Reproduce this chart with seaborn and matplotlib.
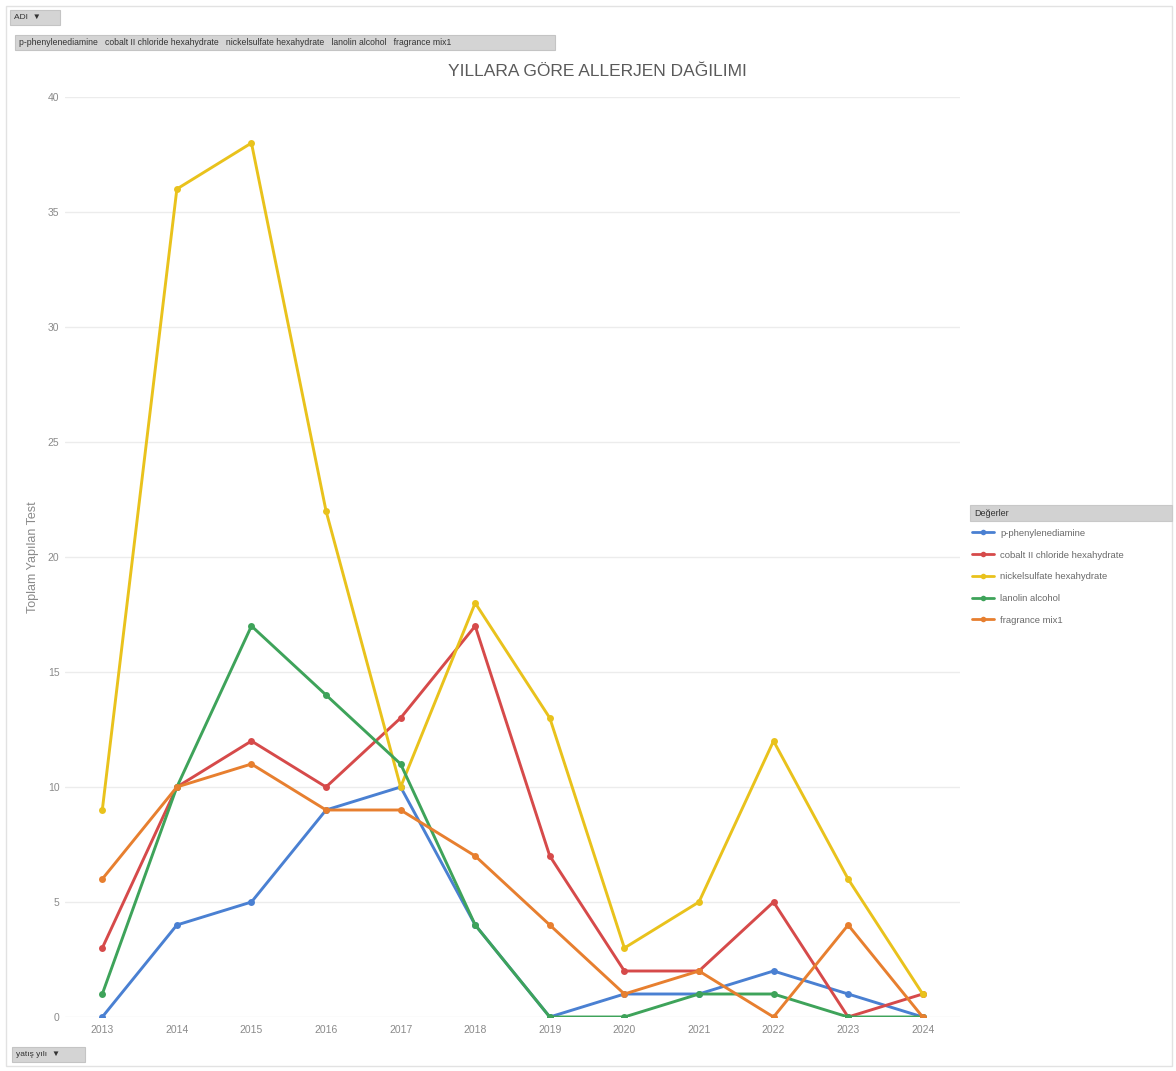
import matplotlib
matplotlib.use("Agg")
import matplotlib.pyplot as plt
from matplotlib.patches import Rectangle
from matplotlib.lines import Line2D
import seaborn as sns
import pandas as pd

years = ["2013", "2014", "2015", "2016", "2017", "2018",
         "2019", "2020", "2021", "2022", "2023", "2024"]
allergens = ["p-phenylenediamine", "cobalt II chloride hexahydrate",
             "nickelsulfate hexahydrate", "lanolin alcohol", "fragrance mix1"]
ppd = [0, 4, 5, 9, 10, 4, 0, 1, 1, 2, 1, 0]
cobalt = [3, 10, 12, 10, 13, 17, 7, 2, 2, 5, 0, 1]
nickel = [9, 36, 38, 22, 10, 18, 13, 3, 5, 12, 6, 1]
lanolin = [1, 10, 17, 14, 11, 4, 0, 0, 1, 1, 0, 0]
fragrance = [6, 10, 11, 9, 9, 7, 4, 1, 2, 0, 4, 0]
colors = ["#4a80d2", "#d64a4a", "#e9c21c", "#3ea35a", "#e77f2f"]

series = [ppd, cobalt, nickel, lanolin, fragrance]
rows = []
for name, vals in zip(allergens, series):
    for i, (y, v) in enumerate(zip(years, vals)):
        rows.append({"idx": i, "year": y, "allergen": name, "count": v})
df = pd.DataFrame(rows)

sns.set_theme(style="white")
plt.rcParams["font.family"] = ["Liberation Sans", "DejaVu Sans"]

W, H = 1176, 1071
fig = plt.figure(figsize=(W / 100, H / 100), dpi=100)
fig.patch.set_facecolor("white")

ax = fig.add_axes([65 / W, 1 - 1017 / H, (960 - 65) / W, (1017 - 97) / H])
palette = dict(zip(allergens, colors))
sns.lineplot(data=df, x="idx", y="count", hue="allergen", hue_order=allergens,
             palette=palette, marker="o", markersize=5, markeredgewidth=0,
             linewidth=2.1, legend=False, ax=ax, sort=False)

ax.set_xlim(-0.5, len(years) - 0.5)
ax.set_ylim(0, 40)
ax.set_xticks(range(len(years)))
ax.set_xticklabels(years)
ax.set_yticks(range(0, 41, 5))
ax.tick_params(axis="both", length=0, labelsize=7.5, colors="#8a8a8a")
ax.tick_params(axis="x", pad=6)
ax.tick_params(axis="y", pad=4)
ax.yaxis.grid(True, color="#ececec", linewidth=1)
ax.set_axisbelow(True)
for s in ax.spines.values():
    s.set_visible(False)
ax.set_xlabel("")
ax.set_ylabel("Toplam Yapılan Test", fontsize=9, color="#8a8a8a", labelpad=6)

fig.text(597 / W, 1 - 72 / H, "YILLARA GÖRE ALLERJEN DAĞILIMI",
         ha="center", va="center", fontsize=12.5, color="#5a5a5a")

# outer chart frame
fig.add_artist(Rectangle((6 / W, 1 - 1066 / H), 1166 / W, 1060 / H,
                         transform=fig.transFigure, fill=False,
                         edgecolor="#e2e2e2", linewidth=1))

# pivot field buttons
def field_button(x0, y0, x1, y1, label, fs=6.5):
    fig.add_artist(Rectangle((x0 / W, 1 - y1 / H), (x1 - x0) / W, (y1 - y0) / H,
                             transform=fig.transFigure, facecolor="#d4d4d4",
                             edgecolor="#c4c4c4", linewidth=0.8))
    fig.text((x0 + 4) / W, 1 - (y0 + y1) / 2 / H, label, ha="left", va="center",
             fontsize=fs, color="#333333")

field_button(10, 10, 60, 25, "ADI  ▼", fs=6)
field_button(15, 35, 555, 50, "   ".join(allergens), fs=6.2)
field_button(12, 1047, 85, 1062, "yatış yılı  ▼", fs=6)

# legend with shaded header
lx0, lx1 = 970, 1172
fig.add_artist(Rectangle((lx0 / W, 1 - 521 / H), (lx1 - lx0) / W, 16 / H,
                         transform=fig.transFigure, facecolor="#d2d2d2",
                         edgecolor="#c8c8c8", linewidth=0.8))
fig.text((lx0 + 4) / W, 1 - 513 / H, "Değerler", ha="left", va="center",
         fontsize=6.5, color="#333333")
handles = [Line2D([0], [0], color=c, linewidth=2.0, marker="o", markersize=4,
                  markeredgewidth=0) for c in colors]
leg = fig.legend(handles, allergens, loc="upper left",
                 bbox_to_anchor=(968 / W, 1 - 525 / H), frameon=False,
                 fontsize=6.8, labelcolor="#6a6a6a", handlelength=2.4,
                 handletextpad=0.6, labelspacing=1.35, borderaxespad=0)

fig.savefig("out.png", dpi=100, facecolor="white")
